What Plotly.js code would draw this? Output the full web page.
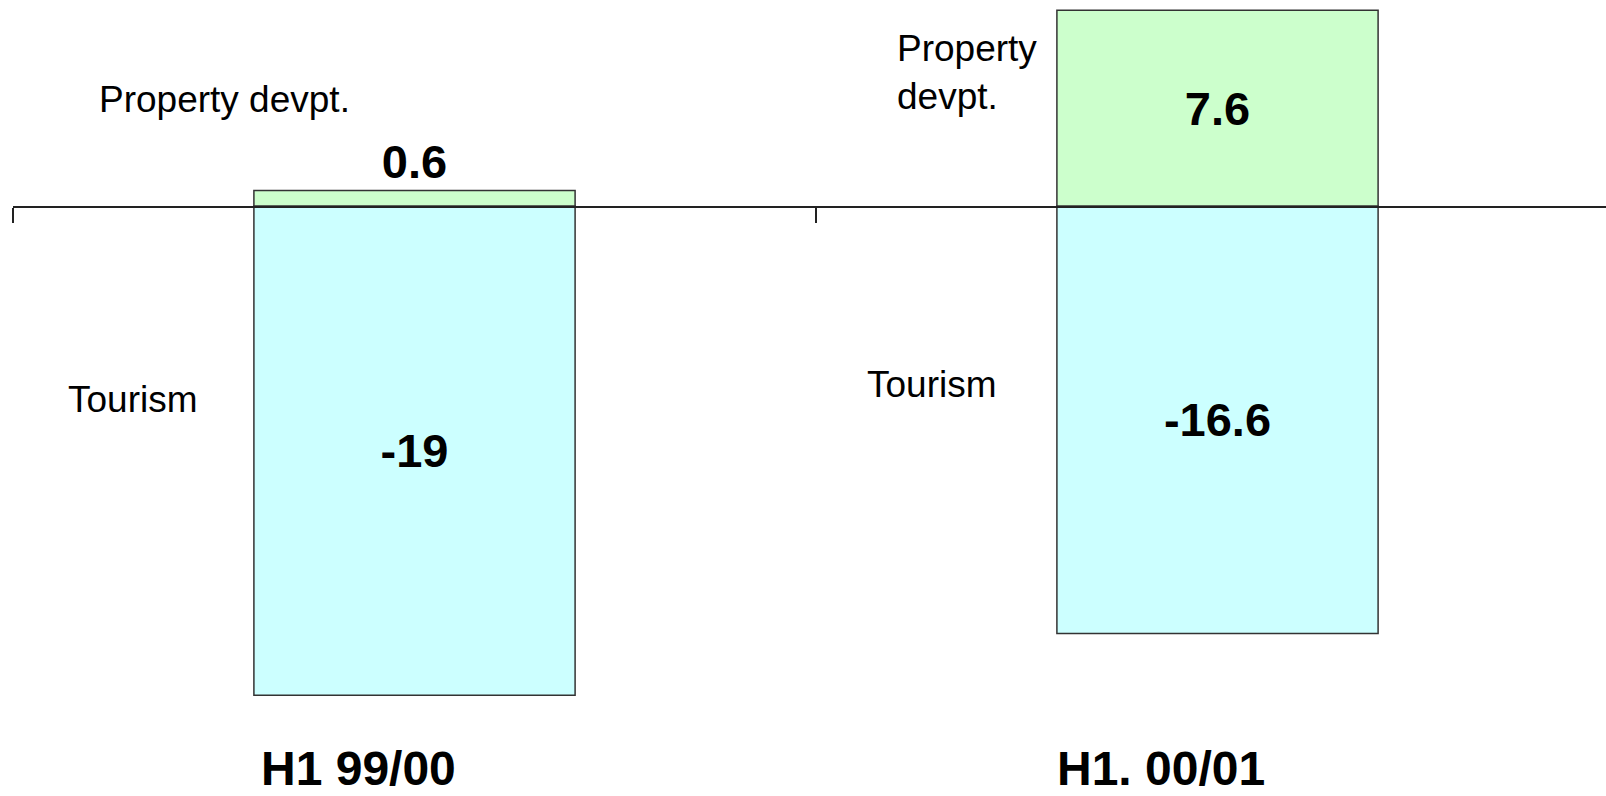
<!DOCTYPE html>
<html>
<head>
<meta charset="utf-8">
<script src="https://cdn.plot.ly/plotly-3.0.1.min.js"></script>
<style>html,body{margin:0;padding:0;background:#fff;}#chart{width:1606px;height:796px;}</style>
</head>
<body>
<div id="chart"></div>
<script>
const categories = ["H1 99/00", "H1. 00/01"];
const tourism = [-19, -16.6];
const property = [0.6, 7.6];
const seriesNames = ["Tourism", "Property devpt."];
const sideLabelsProperty = ["Property devpt.", "Property<br>devpt."];
const sideLabelsTourism = ["Tourism", "Tourism"];

const yMin = -22.91, yMax = 8.0;
const FONT = "Liberation Sans, Arial, sans-serif";
const BIG = 47, CAT = 48, SMALL = 37;

const traces = [
  {
    type: "bar", name: seriesNames[0], x: categories, y: tourism, width: 0.4,
    text: tourism.map(String), texttemplate: "%{text}",
    marker: {color: "#CCFFFF", line: {color: "#333333", width: 1.5}},
    textposition: "inside", insidetextanchor: "middle",
    textangle: 0, constraintext: "none",
    textfont: {family: FONT, size: BIG, color: "#000", weight: "bold"},
    hoverinfo: "skip", cliponaxis: false
  },
  {
    type: "bar", name: seriesNames[1], x: categories, y: property, width: 0.4,
    text: property.map(String), texttemplate: "%{text}",
    marker: {color: "#CCFFCC", line: {color: "#333333", width: 1.5}},
    textposition: ["outside", "inside"], insidetextanchor: "middle",
    textangle: 0, constraintext: "none",
    textfont: {family: FONT, size: BIG, color: "#000", weight: "bold"},
    outsidetextfont: {family: FONT, size: BIG, color: "#000", weight: "bold"},
    hoverinfo: "skip", cliponaxis: false
  }
];

const annotations = [];
const propPos = [[-0.236, 4.12], [0.688, 5.19]];
const tourPos = [[-0.351, -7.53], [0.645, -6.93]];
categories.forEach((c, i) => {
  annotations.push({
    xref: "x", yref: "y", x: propPos[i][0], y: propPos[i][1],
    text: sideLabelsProperty[i], showarrow: false, align: "left",
    xanchor: "center", yanchor: "middle",
    font: {family: FONT, size: SMALL, color: "#000"}
  });
  annotations.push({
    xref: "x", yref: "y", x: tourPos[i][0], y: tourPos[i][1],
    text: sideLabelsTourism[i], showarrow: false,
    xanchor: "center", yanchor: "middle",
    font: {family: FONT, size: SMALL, color: "#000"}
  });
  annotations.push({
    xref: "x", yref: "paper", x: i - 0.07, y: 0,
    text: c, showarrow: false, xanchor: "center", yanchor: "bottom",
    borderpad: 0,
    font: {family: FONT, size: CAT, color: "#000", weight: "bold"}
  });
});

const layout = {
  width: 1606, height: 796,
  margin: {l: 13, r: 0, t: 0, b: 0, pad: 0},
  paper_bgcolor: "#fff", plot_bgcolor: "#fff",
  barmode: "relative", showlegend: false,
  xaxis: {
    type: "category", range: [-0.5, -0.5 + 1593 / 803],
    anchor: "free", position: (0 - yMin) / (yMax - yMin),
    showline: true, linecolor: "#222", linewidth: 1.5,
    ticks: "outside", tickson: "boundaries", ticklen: 15, tickwidth: 1.5, tickcolor: "#222",
    showticklabels: false, showgrid: false, zeroline: false, fixedrange: true
  },
  yaxis: {
    range: [yMin, yMax], domain: [0, 1], visible: false,
    showgrid: false, zeroline: false, fixedrange: true
  },
  annotations: annotations
};

Plotly.newPlot("chart", traces, layout, {displayModeBar: false, staticPlot: true});
</script>
</body>
</html>
